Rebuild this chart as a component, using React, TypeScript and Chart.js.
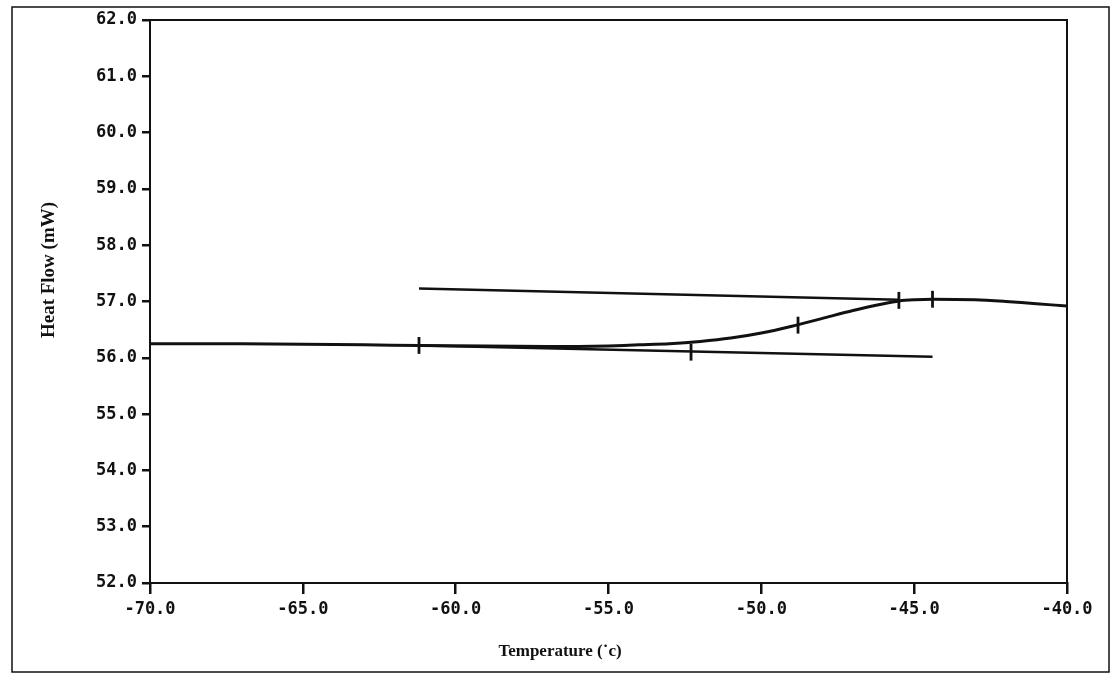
import React, { useEffect, useRef } from "react";
import { Chart, registerables } from "chart.js";

Chart.register(...registerables);

// Main DSC curve
const curveX = [-70, -67, -65, -63, -61.2, -59, -57, -56, -55, -54, -53, -52, -51, -50, -49, -48, -47, -46, -45.5, -45, -44.4, -43, -42, -41, -40];
const curveY = [56.25, 56.25, 56.24, 56.23, 56.22, 56.21, 56.2, 56.2, 56.21, 56.23, 56.25, 56.29, 56.35, 56.44, 56.56, 56.7, 56.84, 56.96, 57.01, 57.03, 57.04, 57.03, 57.0, 56.96, 56.92];

// Upper and lower tangent baselines
const upperX = [-61.2, -45.5];
const upperY = [57.23, 57.03];
const lowerX = [-61.2, -44.4];
const lowerY = [56.22, 56.02];

// Analysis markers (short vertical ticks)
const markerX = [-61.2, -52.3, -48.8, -45.5, -44.4];
const markerY = [56.22, 56.1, 56.58, 57.02, 57.04];
const markerHalf = 0.15;

const yTicks = [52, 53, 54, 55, 56, 57, 58, 59, 60, 61, 62];
const xTicks = [-70, -65, -60, -55, -50, -45, -40];

const xTitle = "Temperature (\u02D9c)";
const yTitle = "Heat Flow (mW)";

export default function App() {
  const ref = useRef<HTMLCanvasElement | null>(null);

  useEffect(() => {
    const canvas = ref.current;
    if (!canvas) return;

    const toPts = (xs: number[], ys: number[]) => xs.map((x, i) => ({ x, y: ys[i] }));

    const markerSets = markerX.map((x, i) => ({
      data: [
        { x, y: markerY[i] - markerHalf },
        { x, y: markerY[i] + markerHalf },
      ],
      borderColor: "#111",
      borderWidth: 2.8,
      pointRadius: 0,
      showLine: true,
      fill: false,
    }));

    const framePlugin = {
      id: "frame",
      beforeDraw(chart: any) {
        const c = chart.ctx;
        c.save();
        c.fillStyle = "#fff";
        c.fillRect(0, 0, chart.width, chart.height);
        c.restore();
      },
      afterDraw(chart: any) {
        const c = chart.ctx;
        const a = chart.chartArea;
        c.save();
        c.strokeStyle = "#111";
        c.lineWidth = 2;
        c.strokeRect(a.left, a.top, a.right - a.left, a.bottom - a.top);
        c.lineWidth = 1.5;
        c.strokeRect(12, 7, 1097, 665);
        c.fillStyle = "#111";
        c.textAlign = "center";
        c.textBaseline = "middle";
        c.font = "bold 17px 'Liberation Serif', serif";
        c.fillText(xTitle, 560, 652);
        c.font = "bold 19px 'Liberation Serif', serif";
        c.translate(49, 270);
        c.rotate(-Math.PI / 2);
        c.fillText(yTitle, 0, 0);
        c.restore();
      },
    };

    const chart = new Chart(canvas, {
      type: "scatter",
      data: {
        datasets: [
          {
            data: toPts(curveX, curveY),
            borderColor: "#111",
            borderWidth: 3,
            pointRadius: 0,
            showLine: true,
            tension: 0.3,
            fill: false,
          },
          {
            data: toPts(upperX, upperY),
            borderColor: "#111",
            borderWidth: 2.5,
            pointRadius: 0,
            showLine: true,
            fill: false,
          },
          {
            data: toPts(lowerX, lowerY),
            borderColor: "#111",
            borderWidth: 2.5,
            pointRadius: 0,
            showLine: true,
            fill: false,
          },
          ...markerSets,
        ] as any,
      },
      options: {
        animation: false,
        responsive: false,
        maintainAspectRatio: false,
        layout: { padding: { left: 0, top: 20, right: 47, bottom: 0 } },
        plugins: {
          legend: { display: false },
          tooltip: { enabled: false },
          title: { display: false },
        },
        scales: {
          x: {
            type: "linear",
            min: -70,
            max: -40,
            afterFit: (s: any) => {
              s.height = 96;
            },
            afterBuildTicks: (s: any) => {
              s.ticks = xTicks.map((v) => ({ value: v }));
            },
            ticks: {
              color: "#111",
              font: { family: "'DejaVu Sans Mono', monospace", size: 17, weight: "bold" },
              padding: 5,
              maxRotation: 0,
              autoSkip: false,
              callback: (v: any) => Number(v).toFixed(1),
            },
            grid: {
              drawOnChartArea: false,
              drawTicks: true,
              tickLength: 11,
              color: "#111",
              lineWidth: 2.5,
            },
            border: { display: true, color: "#111", width: 2 },
          },
          y: {
            type: "linear",
            min: 52,
            max: 62,
            afterFit: (s: any) => {
              s.width = 150;
            },
            afterBuildTicks: (s: any) => {
              s.ticks = yTicks.map((v) => ({ value: v }));
            },
            ticks: {
              color: "#111",
              font: { family: "'DejaVu Sans Mono', monospace", size: 17, weight: "bold" },
              padding: 5,
              autoSkip: false,
              callback: (v: any) => Number(v).toFixed(1),
            },
            grid: {
              drawOnChartArea: false,
              drawTicks: true,
              tickLength: 8,
              color: "#111",
              lineWidth: 2.5,
            },
            border: { display: true, color: "#111", width: 2 },
          },
        },
      },
      plugins: [framePlugin],
    } as any);

    return () => chart.destroy();
  }, []);

  return (
    <div style={{ position: "fixed", left: 0, top: 0, width: 1114, height: 679, background: "#fff" }}>
      <canvas ref={ref} width={1114} height={679} style={{ display: "block", width: 1114, height: 679 }} />
    </div>
  );
}
